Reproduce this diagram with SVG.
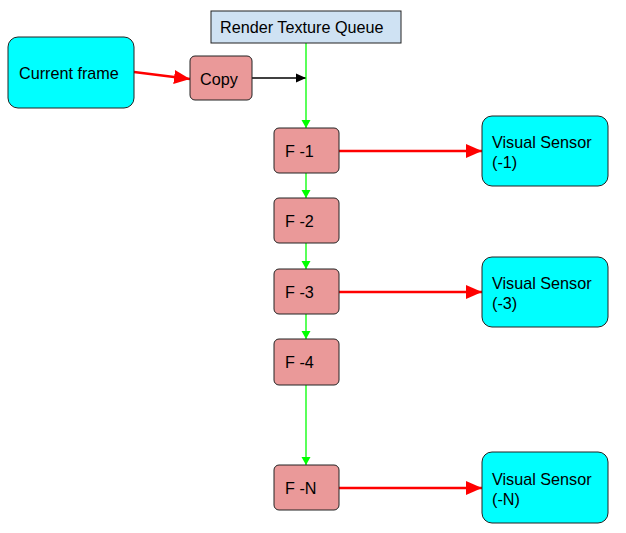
<svg xmlns="http://www.w3.org/2000/svg" width="626" height="533" viewBox="0 0 626 533">
<style>
.cyan{fill:#00ffff;stroke:#222;stroke-width:1}
.pink{fill:#ea9999;stroke:#222;stroke-width:1}
.blue{fill:#cfe2f3;stroke:#222;stroke-width:1}
text{font-family:"Liberation Sans",Arial,sans-serif;font-size:16.2px;fill:#000}
.red{stroke:#ff0000;stroke-width:2.5;fill:none}
.green{stroke:#00ff00;stroke-width:1.3;fill:none}
.black{stroke:#000;stroke-width:1.3;fill:none}
</style>
<defs>
<marker id="ar" markerUnits="userSpaceOnUse" markerWidth="18" markerHeight="14" refX="16" refY="7" orient="auto"><path d="M0,0 L16,7 L0,14 Z" fill="#ff0000"/></marker>
<marker id="ag" markerUnits="userSpaceOnUse" markerWidth="10" markerHeight="10" refX="8" refY="5" orient="auto"><path d="M0,0.5 L8,5 L0,9.5 Z" fill="#00ff00"/></marker>
<marker id="ab" markerUnits="userSpaceOnUse" markerWidth="12" markerHeight="10" refX="10" refY="5" orient="auto"><path d="M0,0.5 L10,5 L0,9.5 Z" fill="#000"/></marker>
</defs>
<g id="connectors">
<line class="red" x1="134" y1="72" x2="190" y2="79" marker-end="url(#ar)"/>
<line class="black" x1="252" y1="78" x2="306" y2="78" marker-end="url(#ab)"/>
<line class="green" x1="306" y1="43" x2="306" y2="128" marker-end="url(#ag)"/>
<line class="green" x1="306" y1="173" x2="306" y2="198" marker-end="url(#ag)"/>
<line class="green" x1="306" y1="243" x2="306" y2="269" marker-end="url(#ag)"/>
<line class="green" x1="306" y1="314" x2="306" y2="339" marker-end="url(#ag)"/>
<line class="green" x1="306" y1="385" x2="306" y2="465" marker-end="url(#ag)"/>
<line class="red" x1="339" y1="151" x2="482" y2="151" marker-end="url(#ar)"/>
<line class="red" x1="339" y1="292" x2="482" y2="292" marker-end="url(#ar)"/>
<line class="red" x1="339" y1="488" x2="482" y2="488" marker-end="url(#ar)"/>
</g>
<g id="current-frame"><rect class="cyan" x="8" y="37" width="126" height="71" rx="10"/><text x="19" y="79">Current frame</text></g>
<g id="copy"><rect class="pink" x="190" y="56" width="62" height="44" rx="5"/><text x="200" y="85">Copy</text></g>
<g id="queue"><rect class="blue" x="211" y="11" width="190" height="32"/><text x="220" y="33">Render Texture Queue</text></g>
<g id="f1"><rect class="pink" x="274" y="128" width="65" height="45" rx="5"/><text x="285" y="157">F -1</text></g>
<g id="f2"><rect class="pink" x="274" y="198" width="65" height="45" rx="5"/><text x="285" y="227">F -2</text></g>
<g id="f3"><rect class="pink" x="274" y="269" width="65" height="45" rx="5"/><text x="285" y="298">F -3</text></g>
<g id="f4"><rect class="pink" x="274" y="339" width="65" height="46" rx="5"/><text x="285" y="368">F -4</text></g>
<g id="fn"><rect class="pink" x="274" y="465" width="65" height="45" rx="5"/><text x="285" y="494">F -N</text></g>
<g id="vs1"><rect class="cyan" x="482" y="116" width="126" height="70" rx="10"/><text x="492" y="148">Visual Sensor</text><text x="492" y="168">(-1)</text></g>
<g id="vs3"><rect class="cyan" x="482" y="257" width="126" height="70" rx="10"/><text x="492" y="289">Visual Sensor</text><text x="492" y="309">(-3)</text></g>
<g id="vsn"><rect class="cyan" x="482" y="452" width="126" height="71" rx="10"/><text x="492" y="485">Visual Sensor</text><text x="492" y="505">(-N)</text></g>
</svg>
